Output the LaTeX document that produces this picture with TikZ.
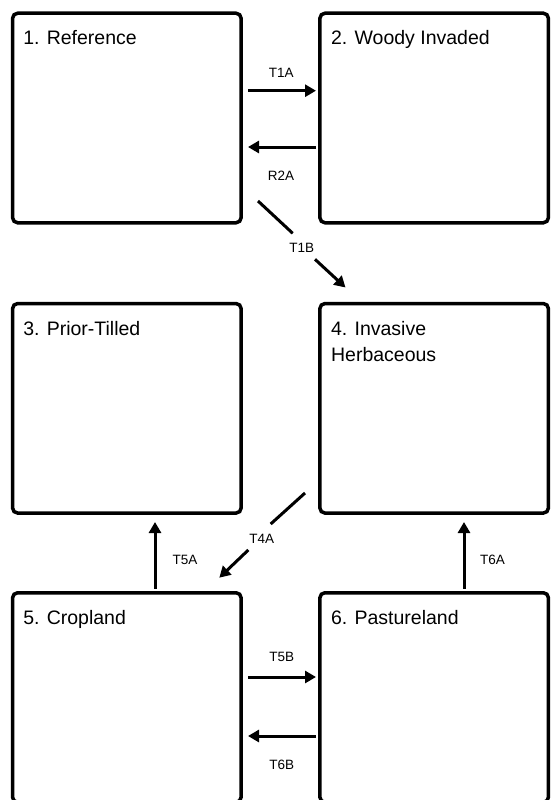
\documentclass[tikz,border=0pt]{standalone}
\usepackage{fontspec}
\setmainfont{Liberation Sans}
\usetikzlibrary{arrows.meta}
\begin{document}
\begin{tikzpicture}[x=1pt,y=-1pt,
  statebox/.style={draw=black, line width=3.5pt, rounded corners=5pt, minimum width=228.5pt, minimum height=209.5pt, inner sep=0pt, outer sep=0pt},
  title/.style={anchor=base west, inner sep=0pt, align=left, font=\fontsize{19.5}{26.4}\selectfont},
  lbl/.style={inner sep=0pt, font=\fontsize{13.5}{16}\selectfont},
  trans/.style={line width=3pt, -{Triangle[length=11pt,width=12pt]}},
  seg/.style={line width=3pt}]
\useasboundingbox (0,0) rectangle (550,800);
\clip (0,0) rectangle (550,800);
% state boxes
\node[statebox] (s1) at (126.85,118) {};
\node[statebox] (s2) at (434.15,118) {};
\node[statebox] (s3) at (126.85,408.3) {};
\node[statebox] (s4) at (434.15,408.3) {};
\node[statebox] (s5) at (126.85,697.5) {};
\node[statebox] (s6) at (434.15,697.5) {};
% titles
\node[title] (t1) at ([shift={(10.5,31.7)}]s1.north west) {1. Reference};
\node[title] (t2) at ([shift={(11,31.7)}]s2.north west) {2. Woody Invaded};
\node[title] (t3) at ([shift={(10.5,31.7)}]s3.north west) {3. Prior-Tilled};
\node[title] (t4) at ([shift={(11,58.1)}]s4.north west) {4. Invasive\\Herbaceous};
\node[title] (t5) at ([shift={(10.5,31.7)}]s5.north west) {5. Cropland};
\node[title] (t6) at ([shift={(11,31.7)}]s6.north west) {6. Pastureland};
% connector end points
\coordinate (a1s) at (248,90.7);   \coordinate (a1e) at (316,90.7);
\coordinate (r2s) at (316,147);    \coordinate (r2e) at (248,147);
\coordinate (b1s) at (258,201);    \coordinate (b1m) at (292.7,233.3);
\coordinate (b1n) at (315,259.3);  \coordinate (b1e) at (345.5,287.5);
\coordinate (c4s) at (305,493);    \coordinate (c4m) at (270.7,524);
\coordinate (c4n) at (248.3,550);  \coordinate (c4e) at (219.3,577.7);
\coordinate (d5s) at (155,588.5);  \coordinate (d5e) at (155,522);
\coordinate (d6s) at (464,588.5);  \coordinate (d6e) at (464,522);
\coordinate (e5s) at (248,677);    \coordinate (e5e) at (316,677);
\coordinate (e6s) at (316,736);    \coordinate (e6e) at (248,736);
% connectors
\draw[trans] (a1s) -- (a1e);
\draw[trans] (r2s) -- (r2e);
\draw[seg] (b1s) -- (b1m);
\draw[trans] (b1n) -- (b1e);
\draw[seg] (c4s) -- (c4m);
\draw[trans] (c4n) -- (c4e);
\draw[trans] (d5s) -- (d5e);
\draw[trans] (d6s) -- (d6e);
\draw[trans] (e5s) -- (e5e);
\draw[trans] (e6s) -- (e6e);
% labels
\node[lbl] (l1) at (281.3,72.8) {T1A};
\node[lbl] (l2) at (281,175.3) {R2A};
\node[lbl] (l3) at (301.7,248.3) {T1B};
\node[lbl] (l4) at (261.8,539.3) {T4A};
\node[lbl] (l5) at (185,560) {T5A};
\node[lbl] (l6) at (492.5,560) {T6A};
\node[lbl] (l7) at (281.7,656.6) {T5B};
\node[lbl] (l8) at (281.7,764.5) {T6B};
\end{tikzpicture}
\end{document}
